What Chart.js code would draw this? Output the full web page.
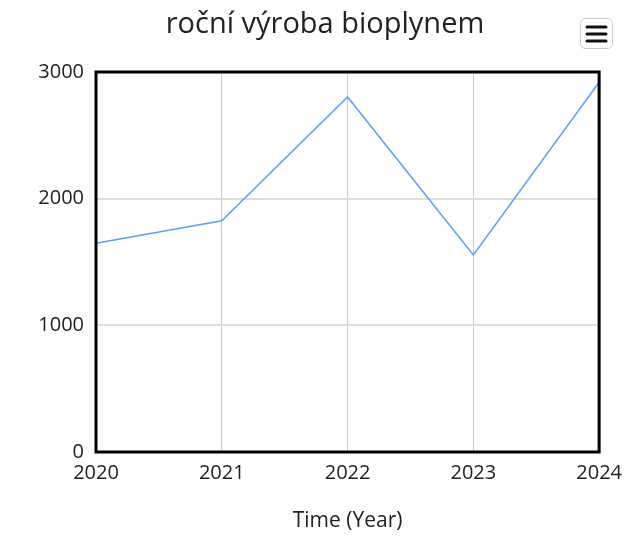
<!DOCTYPE html>
<html>
<head>
<meta charset="utf-8">
<script src="https://cdn.jsdelivr.net/npm/chart.js@4"></script>
<style>
  html, body { margin: 0; padding: 0; background: #fff; }
  #wrap { width: 631px; height: 538px; position: relative; }
</style>
</head>
<body>
<div id="wrap"><canvas id="chart1"></canvas></div>
<script>
const years = ['2020', '2021', '2022', '2023', '2024'];
const production = [1648, 1826, 2803, 1555, 2919];
const yTicks = [0, 1000, 2000, 3000];
const chartTitle = 'roční výroba bioplynem';

const ctx = document.getElementById('chart1').getContext('2d');

new Chart(ctx, {
    type: 'line',
    data: {
        labels: years,
        datasets: [{
            data: production,
            borderColor: '#5aa2f8',
            borderWidth: 1.5,
            pointRadius: 0,
            tension: 0,
            fill: false
        }]
    },
    options: {
        responsive: true,
        maintainAspectRatio: false,
        animation: false,
        layout: {
            padding: { left: 0, right: 31, top: 72, bottom: 0 }
        },
        plugins: {
            legend: { display: false },
            tooltip: { enabled: false },
            title: { display: false }
        },
        scales: {
            x: {
                offset: false,
                grid: { color: '#c8c8c8', lineWidth: 1, drawTicks: false },
                border: { display: false },
                ticks: {
                    color: '#222',
                    font: { family: 'Open Sans', size: 20 },
                    padding: 9,
                    maxRotation: 0
                },
                title: {
                    display: true,
                    text: 'Time (Year)',
                    color: '#222',
                    font: { family: 'Open Sans', size: 21 },
                    padding: { top: 10, bottom: 4 }
                },
                afterFit: function(axis) { axis.height = 86; }
            },
            y: {
                min: yTicks[0],
                max: yTicks[yTicks.length - 1],
                afterBuildTicks: function(axis) {
                    axis.ticks = yTicks.map(v => ({ value: v }));
                },
                grid: { color: '#dddddd', lineWidth: 2, drawTicks: false },
                border: { display: false },
                ticks: {
                    color: '#222',
                    font: { family: 'Open Sans', size: 20 },
                    padding: 12,
                    callback: v => String(v)
                },
                afterFit: function(axis) { axis.width = 96; }
            }
        }
    },
    plugins: [{
        id: 'frameAndMenu',
        afterDraw: function(chart) {
            const c = chart.ctx;
            const a = chart.chartArea;
            c.save();
            // black frame round the plot
            c.strokeStyle = '#000';
            c.lineWidth = 3;
            c.strokeRect(a.left, a.top, a.right - a.left, a.bottom - a.top);

            // title
            c.fillStyle = '#222';
            c.font = '29px "Open Sans"';
            c.textAlign = 'center';
            c.textBaseline = 'alphabetic';
            c.fillText(chartTitle, 325, 33);

            // menu button top right
            const bx = 580, by = 18, bw = 32, bh = 30;
            c.fillStyle = '#fff';
            c.strokeStyle = '#ccc';
            c.lineWidth = 1;
            c.beginPath();
            c.roundRect(bx + 0.5, by + 0.5, bw, bh, 5);
            c.fill();
            c.stroke();
            c.strokeStyle = '#111';
            c.lineWidth = 3;
            c.lineCap = 'round';
            for (let i = 0; i < 3; i++) {
                const ly = by + 9 + i * 7;
                c.beginPath();
                c.moveTo(bx + 7, ly);
                c.lineTo(bx + bw - 6, ly);
                c.stroke();
            }
            c.restore();
        }
    }]
});
</script>
</body>
</html>
